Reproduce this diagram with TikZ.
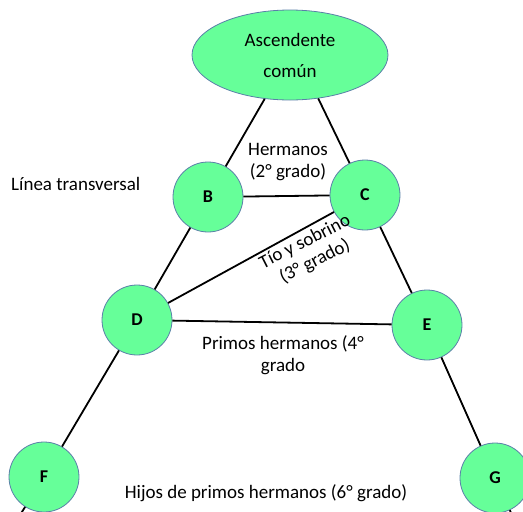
\documentclass[tikz,border=0pt]{standalone}
\usepackage{fontspec}
\setmainfont{Carlito}
\usetikzlibrary{shapes.geometric}

\definecolor{kinfill}{HTML}{66FF99}
\definecolor{kinedge}{HTML}{5A7FA8}

\begin{document}
\begin{tikzpicture}[x=1pt, y=1pt,
      person/.style={circle, draw=kinedge, fill=kinfill, line width=0.8pt,
        minimum size=70pt, inner sep=0pt, font=\fontsize{18}{22}\selectfont\bfseries},
      ancestor/.style={ellipse, draw=kinedge, fill=kinfill, line width=0.8pt,
        minimum width=196pt, minimum height=90pt, align=center,
        font=\fontsize{19}{31}\selectfont},
      kin/.style={align=center, inner sep=1pt, font=\fontsize{19}{22}\selectfont},
      link/.style={line width=1.8pt}]
    \useasboundingbox (0,0) rectangle (523,-512);
    % nodes
    \node[ancestor] (asc) at (290,-55) {Ascendente\\común};
    \node[person] (B) at (208,-197) {B};
    \node[person] (C) at (365,-195) {C};
    \node[person] (D) at (137,-320) {D};
    \node[person] (E) at (427,-325) {E};
    \node[person] (F) at (44,-477) {F};
    \node[person] (G) at (495,-478) {G};
    \coordinate (Fout) at (20,-515);
    \coordinate (Gout) at (512,-515);
    % lines of descent
    \draw[link] (asc.240) -- (B);
    \draw[link] (B) -- (D);
    \draw[link] (D) -- (F);
    \draw[link] (F) -- (Fout);
    \draw[link] (asc.303) -- (C);
    \draw[link] (C) -- (E);
    \draw[link] (E) -- (G);
    \draw[link] (G) -- (Gout);
    % transversal lines
    \draw[link] (B) -- (C);
    \draw[link] (D) -- (C);
    \draw[link] (D) -- (E);
    % labels
    \node[kin] (lblBC) at (288,-162) {Hermanos\\(2° grado)};
    \node[kin, anchor=west] (lblTrans) at (10,-184) {Línea transversal};
    \node[kin, rotate=27] (lblDC) at (310,-252) {Tío y sobrino\\(3° grado)};
    \node[kin] (lblDE) at (283,-355) {Primos hermanos (4°\\grado};
    \node[kin] (lblFG) at (266,-493) {Hijos de primos hermanos (6° grado)};
\end{tikzpicture}
\end{document}
